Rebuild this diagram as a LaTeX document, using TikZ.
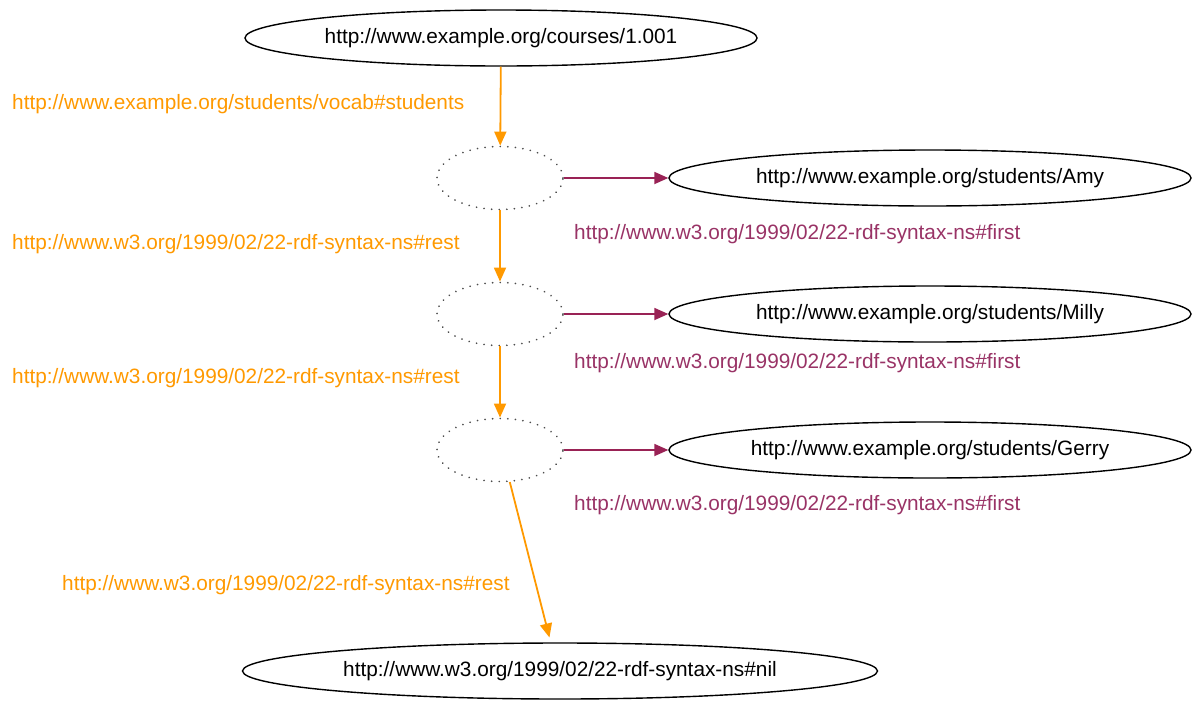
\documentclass[tikz,border=0pt]{standalone}
\usepackage{fontspec}
\setmainfont{Liberation Sans}
\usetikzlibrary{shapes.geometric,arrows.meta}
\definecolor{edgeor}{RGB}{255,153,0}
\definecolor{edgemg}{RGB}{153,34,85}
\definecolor{labmg}{RGB}{153,51,102}
\begin{document}
\begin{tikzpicture}[x=1pt,y=-1pt,
  every node/.style={font=\fontsize{20.8}{25}\selectfont},
  uri/.style={ellipse,draw=black,line width=1.4pt,inner sep=0pt,minimum height=56pt},
  blank/.style={ellipse,draw=black!70,line width=1.8pt,dash pattern=on 0.1pt off 7.5pt,line cap=round,minimum width=126pt,minimum height=63pt,inner sep=0pt},
  oredge/.style={draw=edgeor,line width=1.8pt,-{Triangle[length=14pt,width=12pt]}},
  mgedge/.style={draw=edgemg,line width=1.8pt,-{Triangle[length=14pt,width=12pt]}},
  orlab/.style={text=edgeor,anchor=west,inner sep=0pt},
  mglab/.style={text=labmg,anchor=west,inner sep=0pt}]
\useasboundingbox (0,0) rectangle (1200,702);
\node[uri,minimum width=512pt] (course) at (501,38) {http://www.example.org/courses/1.001};
\node[blank] (b1) at (500,178) {};
\node[blank] (b2) at (500,314) {};
\node[blank] (b3) at (500,450) {};
\node[uri,minimum width=522pt] (amy) at (930,178) {http://www.example.org/students/Amy};
\node[uri,minimum width=522pt] (milly) at (930,314) {http://www.example.org/students/Milly};
\node[uri,minimum width=522pt] (gerry) at (930,450) {http://www.example.org/students/Gerry};
\node[uri,minimum width=635pt] (nil) at (560,671) {http://www.w3.org/1999/02/22-rdf-syntax-ns\#nil};

\draw[oredge] (course) -- (b1);
\draw[oredge] (b1) -- (b2);
\draw[oredge] (b2) -- (b3);
\draw[oredge,shorten >=5pt] (b3.-73) -- (nil.108);
\draw[mgedge] (b1) -- (amy);
\draw[mgedge] (b2) -- (milly);
\draw[mgedge] (b3) -- (gerry);

\node[orlab] (l1) at (12,104) {http://www.example.org/students/vocab\#students};
\node[orlab] (l2) at (12,244) {http://www.w3.org/1999/02/22-rdf-syntax-ns\#rest};
\node[orlab] (l3) at (12,378) {http://www.w3.org/1999/02/22-rdf-syntax-ns\#rest};
\node[orlab] (l4) at (62,585) {http://www.w3.org/1999/02/22-rdf-syntax-ns\#rest};
\node[mglab] (f1) at (574,234) {http://www.w3.org/1999/02/22-rdf-syntax-ns\#first};
\node[mglab] (f2) at (574,363) {http://www.w3.org/1999/02/22-rdf-syntax-ns\#first};
\node[mglab] (f3) at (574,505) {http://www.w3.org/1999/02/22-rdf-syntax-ns\#first};
\end{tikzpicture}
\end{document}
